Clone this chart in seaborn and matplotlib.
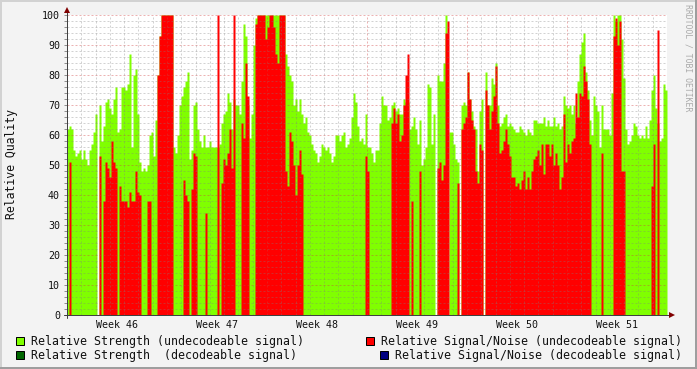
import numpy as np
import pandas as pd
import matplotlib
matplotlib.use("Agg")
import matplotlib.pyplot as plt
import seaborn as sns
from matplotlib.lines import Line2D
from matplotlib.patches import Rectangle

# ---------------- data (one value per 2-pixel time slot, 300 slots = 6 weeks) -------------
strength_undec = [
    62, 63, 62, 55, 53, 54, 55, 52, 55, 52,
    50, 55, 57, 61, 67, 0, 70, 58, 63, 71,
    72, 69, 67, 72, 76, 61, 62, 76, 76, 75,
    77, 87, 56, 80, 82, 67, 51, 48, 49, 48,
    50, 60, 61, 53, 65, 80, 93, 100, 100, 100,
    100, 100, 100, 56, 54, 60, 70, 73, 76, 78,
    81, 52, 55, 70, 71, 62, 58, 56, 60, 56,
    56, 58, 56, 56, 56, 56, 57, 64, 67, 68,
    74, 71, 62, 72, 70, 70, 67, 78, 97, 93,
    70, 59, 67, 90, 99, 100, 100, 100, 100, 100,
    100, 100, 100, 100, 100, 100, 100, 100, 100, 87,
    83, 80, 78, 70, 72, 68, 72, 67, 64, 66,
    61, 60, 57, 55, 54, 51, 53, 57, 56, 55,
    56, 54, 51, 53, 60, 60, 58, 60, 61, 56,
    57, 59, 66, 74, 71, 63, 58, 59, 57, 67,
    56, 56, 54, 51, 55, 55, 64, 73, 70, 70,
    65, 66, 70, 71, 68, 69, 67, 67, 72, 71,
    71, 62, 63, 66, 62, 57, 65, 50, 52, 56,
    77, 76, 57, 67, 0, 80, 78, 78, 84, 100,
    0, 61, 61, 57, 52, 51, 0, 70, 71, 70,
    81, 72, 68, 63, 62, 48, 68, 72, 0, 81,
    70, 70, 79, 77, 84, 70, 63, 64, 66, 67,
    63, 64, 63, 62, 61, 61, 63, 62, 61, 60,
    62, 61, 60, 65, 65, 64, 64, 64, 66, 63,
    65, 63, 63, 66, 63, 64, 62, 63, 73, 70,
    69, 70, 67, 70, 64, 78, 87, 91, 94, 81,
    75, 65, 60, 73, 70, 68, 56, 70, 62, 62,
    62, 60, 74, 100, 98, 100, 100, 92, 79, 62,
    57, 58, 60, 64, 63, 60, 59, 60, 59, 63,
    59, 65, 75, 80, 69, 64, 58, 59, 77, 75,
]

snr_undec = [
    0, 51, 0, 0, 0, 0, 0, 0, 0, 0,
    0, 0, 0, 0, 0, 0, 53, 0, 38, 51,
    49, 46, 58, 51, 49, 0, 43, 38, 38, 38,
    36, 41, 38, 38, 48, 41, 40, 0, 0, 0,
    38, 38, 0, 0, 0, 80, 93, 100, 100, 100,
    100, 100, 100, 0, 0, 0, 0, 0, 45, 40,
    38, 0, 42, 54, 53, 0, 0, 0, 0, 34,
    0, 0, 0, 0, 0, 100, 0, 44, 52, 50,
    54, 62, 49, 100, 0, 0, 0, 64, 59, 84,
    73, 0, 0, 0, 97, 100, 100, 100, 100, 92,
    96, 100, 100, 96, 87, 84, 100, 100, 100, 48,
    43, 61, 58, 50, 40, 50, 55, 47, 0, 0,
    0, 0, 0, 0, 0, 0, 0, 0, 0, 0,
    0, 0, 0, 0, 0, 0, 0, 0, 0, 0,
    0, 0, 0, 0, 0, 0, 0, 0, 0, 53,
    48, 0, 0, 0, 0, 0, 0, 0, 0, 0,
    0, 0, 64, 69, 64, 67, 58, 60, 70, 80,
    87, 0, 38, 0, 0, 0, 48, 0, 0, 0,
    0, 0, 0, 0, 0, 49, 51, 45, 50, 94,
    98, 0, 0, 0, 0, 44, 0, 62, 64, 66,
    81, 72, 65, 62, 48, 44, 57, 55, 0, 75,
    70, 62, 68, 73, 83, 64, 54, 55, 58, 62,
    57, 53, 46, 46, 43, 44, 42, 45, 48, 42,
    46, 42, 48, 52, 53, 55, 50, 57, 47, 57,
    57, 53, 57, 50, 54, 50, 42, 46, 67, 51,
    57, 54, 58, 59, 74, 66, 74, 73, 83, 78,
    72, 57, 0, 0, 0, 0, 0, 54, 0, 0,
    0, 0, 0, 93, 99, 90, 98, 48, 48, 0,
    0, 0, 0, 0, 0, 0, 0, 0, 0, 0,
    0, 0, 43, 57, 0, 95, 0, 0, 0, 0,
]

week_labels = ["Week 46", "Week 47", "Week 48", "Week 49", "Week 50", "Week 51"]
y_ticks = [0, 10, 20, 30, 40, 50, 60, 70, 80, 90, 100]
legend_labels = [
    "Relative Strength (undecodeable signal)",
    "Relative Signal/Noise (undecodeable signal)",
    "Relative Strength  (decodeable signal)",
    "Relative Signal/Noise (decodeable signal)",
]

# ---------------- styling ----------------
GREEN = "#80FF00"
RED = "#FF0000"
DKGREEN = "#006600"
DKBLUE = "#000080"
BG = "#F3F3F3"

sns.set_style("white")
plt.rcParams["font.family"] = ["DejaVu Sans Mono", "DejaVu Sans"]

W, H = 697, 369
fig = plt.figure(figsize=(W / 100, H / 100), dpi=100, facecolor=BG)
ax = fig.add_axes([67 / W, (H - 315) / H, 600 / W, 300 / H])
ax.set_facecolor("white")

n_slots = len(strength_undec)
n_days = 7 * len(week_labels)
slot = n_days / n_slots
centers = (np.arange(n_slots) + 0.5) * slot

df = pd.DataFrame({"t": centers,
                   "strength": np.asarray(strength_undec, dtype=float),
                   "snr": np.asarray(snr_undec, dtype=float)})

sns.histplot(data=df, x="t", weights="strength", bins=n_slots, binrange=(0, n_days),
             element="step", fill=True, color=GREEN, alpha=1, linewidth=0, ax=ax)
sns.histplot(data=df, x="t", weights="snr", bins=n_slots, binrange=(0, n_days),
             element="step", fill=True, color=RED, alpha=1, linewidth=0, ax=ax)

ax.set_xlim(0, n_days)
ax.set_ylim(0, 100)
ax.set_xlabel("")
ax.set_ylabel("")
for s in ax.spines.values():
    s.set_visible(False)

px = 0.72  # one pixel in points
dash = (0, (2, 2))
# horizontal grid
for v in range(2, 101, 2):
    if v % 10 == 0:
        ax.axhline(v, color="#D04040", alpha=0.4, lw=px, ls=dash, zorder=5)
    else:
        ax.axhline(v, color="#808080", alpha=0.35, lw=px, ls=dash, zorder=5)
# vertical grid
for d in range(1, n_days + 1):
    if d % 7 == 0:
        ax.axvline(d, color="#D04040", alpha=0.4, lw=px, ls=dash, zorder=5)
    else:
        ax.axvline(d, color="#808080", alpha=0.35, lw=px, ls=dash, zorder=5)

# y ticks
ax.set_yticks(y_ticks)
ax.set_yticklabels([str(v) for v in y_ticks])
ax.set_yticks(list(range(0, 101, 2)), minor=True)
ax.tick_params(axis="y", which="both", left=True, length=3 * px, width=px, color="#909090",
               pad=4 * px, labelsize=7.2, labelcolor="#111111")
ax.set_xticks([])

# axes lines with arrows
ax.plot([-0.005, 1.004], [0, 0], transform=ax.transAxes, color="#404040", lw=px,
        clip_on=False, zorder=6)
ax.plot([0, 0], [-0.01, 1.012], transform=ax.transAxes, color="#404040", lw=px,
        clip_on=False, zorder=6)
ax.plot([1.0075], [0], marker=">", markersize=4.5, color="#800000", transform=ax.transAxes,
        clip_on=False, zorder=7, markeredgewidth=0)
ax.plot([0], [1.016], marker="^", markersize=4.5, color="#800000", transform=ax.transAxes,
        clip_on=False, zorder=7, markeredgewidth=0)

# week labels (centered in each week)
for k, lab in enumerate(week_labels):
    xpix = 67 + 100 * k + 50
    fig.text(xpix / W, (H - 328) / H, lab, ha="center", va="baseline", fontsize=7.2,
             color="#111111")

# y axis title
fig.text(12 / W, (H - 164) / H, "Relative Quality", rotation=90, ha="center", va="center",
         fontsize=8.3, color="#111111")

# watermark
fig.text(688 / W, (H - 4) / H, "RRDTOOL / TOBI OETIKER", rotation=270, ha="center",
         va="top", fontsize=5.9, color="#AAAAAA")

# legend
legend_items = [
    (legend_labels[0], GREEN, 15.5, 30.7, 345),
    (legend_labels[1], RED, 365.5, 380.7, 345),
    (legend_labels[2], DKGREEN, 15.5, 30.7, 359.3),
    (legend_labels[3], DKBLUE, 380.0, 394.6, 359.3),
]
for lab, col, sx, tx, base in legend_items:
    fig.add_artist(Rectangle((sx / W, (H - base) / H), 8 / W, 8 / H, transform=fig.transFigure,
                             facecolor=col, edgecolor="black", linewidth=px))
    fig.text(tx / W, (H - base) / H, lab, ha="left", va="baseline", fontsize=8.35,
             color="#111111")

# frame around the image
fig.add_artist(Line2D([0, 1], [1 - 1 / H, 1 - 1 / H], transform=fig.transFigure,
                      color="#D2D2D2", lw=2 * px))
fig.add_artist(Line2D([1 / W, 1 / W], [0, 1], transform=fig.transFigure,
                      color="#D2D2D2", lw=2 * px))
fig.add_artist(Line2D([0, 1], [1.5 / H, 1.5 / H], transform=fig.transFigure,
                      color="#9E9E9E", lw=3 * px))
fig.add_artist(Line2D([1 - 1.5 / W, 1 - 1.5 / W], [0, 1], transform=fig.transFigure,
                      color="#9E9E9E", lw=3 * px))

fig.savefig("out.png", dpi=100, facecolor=BG)
